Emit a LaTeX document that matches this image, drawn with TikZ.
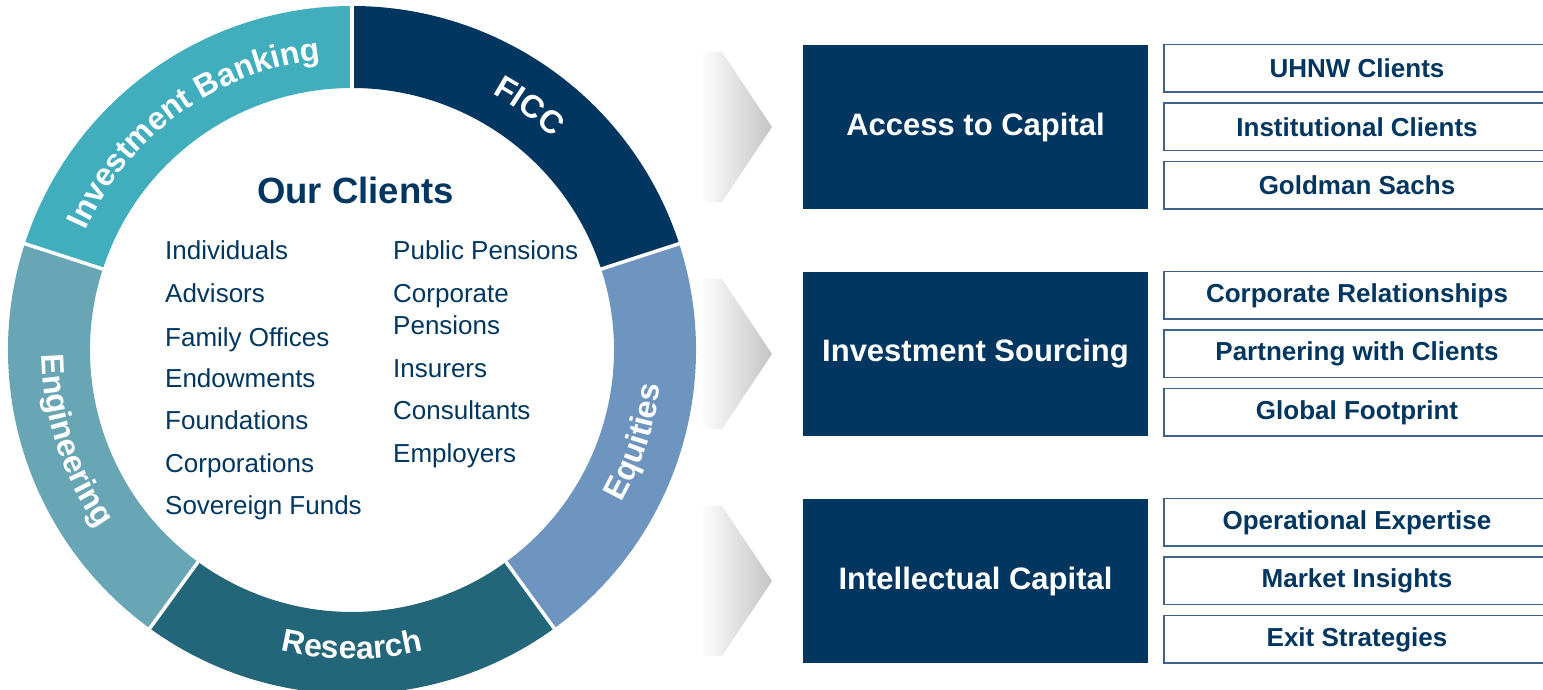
\documentclass[tikz,border=0pt]{standalone}
\usepackage{fontspec}
\setmainfont{Liberation Sans}
\usetikzlibrary{decorations.text}

\definecolor{navy}{HTML}{003660}
\definecolor{ibteal}{HTML}{41AEBE}
\definecolor{eqblue}{HTML}{6E95BF}
\definecolor{resteal}{HTML}{236579}
\definecolor{engteal}{HTML}{69A6B5}
\definecolor{boxline}{HTML}{3E6289}
\definecolor{chevgray}{HTML}{C4C4C4}

\newcommand{\ringfont}{\fontsize{32}{32}\selectfont\bfseries\color{white}}

\tikzset{
  bigbox/.style={fill=navy, text=white, minimum width=345pt, minimum height=164pt,
    inner sep=0pt, font=\fontsize{31}{31}\selectfont\bfseries},
  smallbox/.style={draw=boxline, line width=1.5pt, fill=white, text=navy,
    minimum width=386pt, minimum height=47.5pt, inner sep=0pt,
    font=\fontsize{26}{26}\selectfont\bfseries},
  client/.style={anchor=base west, inner sep=0pt, text=navy,
    font=\fontsize{26}{26}\selectfont},
  ringlabel/.style={decorate, decoration={text along path, text align=center, text={|\ringfont|#1}}}
}

\begin{document}
\begin{tikzpicture}[x=1pt,y=1pt]
    \useasboundingbox (0,0) rectangle (1543,690);

    % The ring of five businesses
    \begin{scope}[shift={(352,340)}]
        \foreach \s/\e/\col in {162/90/ibteal, 90/18/navy, 18/-54/eqblue, -54/-126/resteal, -126/-198/engteal}
            \fill[\col] (\s:344) arc[start angle=\s, end angle=\e, radius=344]
                -- (\e:262) arc[start angle=\e, end angle=\s, radius=262] -- cycle;
        \foreach \a in {90,18,-54,-126,162}
            \draw[white, line width=3.5pt] (\a:255) -- (\a:350);

        \path[ringlabel=Investment Banking] (162:292) arc[start angle=162, end angle=90, radius=292];
        \path[ringlabel=FICC] (90:292) arc[start angle=90, end angle=18, radius=292];
        \path[ringlabel=Equities] (-54:310) arc[start angle=-54, end angle=18, radius=310];
        \path[ringlabel=Research] (-126:309) arc[start angle=-126, end angle=-54, radius=309];
        \path[ringlabel=Engineering] (162:310) arc[start angle=162, end angle=234, radius=310];
    \end{scope}

    % Clients inside the ring
    \node[anchor=base, inner sep=0pt, text=navy, font=\fontsize{36.5}{36.5}\selectfont\bfseries]
        (clients) at (355.5,486) {Our Clients};
    \foreach \t/\y [count=\i] in {Individuals/430, Advisors/387, Family Offices/343,
        Endowments/302, Foundations/260, Corporations/217, Sovereign Funds/175}
        \node[client] (left\i) at (165,\y) {\t};
    \foreach \t/\y [count=\i] in {Public Pensions/430, Corporate/387, Pensions/355,
        Insurers/312, Consultants/270, Employers/227}
        \node[client] (right\i) at (393,\y) {\t};

    % Chevrons, main boxes and the three points of each
    \foreach \y/\main/\ta/\tb/\tc [count=\i] in {
        563/Access to Capital/UHNW Clients/Institutional Clients/Goldman Sachs,
        336/Investment Sourcing/Corporate Relationships/Partnering with Clients/Global Footprint,
        109/Intellectual Capital/Operational Expertise/Market Insights/Exit Strategies}
    {
        \shade[left color=white, right color=chevgray]
            (700,\y+75) -- (722,\y+75) -- (772,\y) -- (722,\y-75) -- (700,\y-75) -- cycle;
        \node[bigbox] (main\i) at (975.5,\y) {\main};
        \node[smallbox] (upper\i) at (1357,\y+58.5) {\ta};
        \node[smallbox] (middle\i) at (1357,\y) {\tb};
        \node[smallbox] (lower\i) at (1357,\y-58.5) {\tc};
    }
\end{tikzpicture}
\end{document}
